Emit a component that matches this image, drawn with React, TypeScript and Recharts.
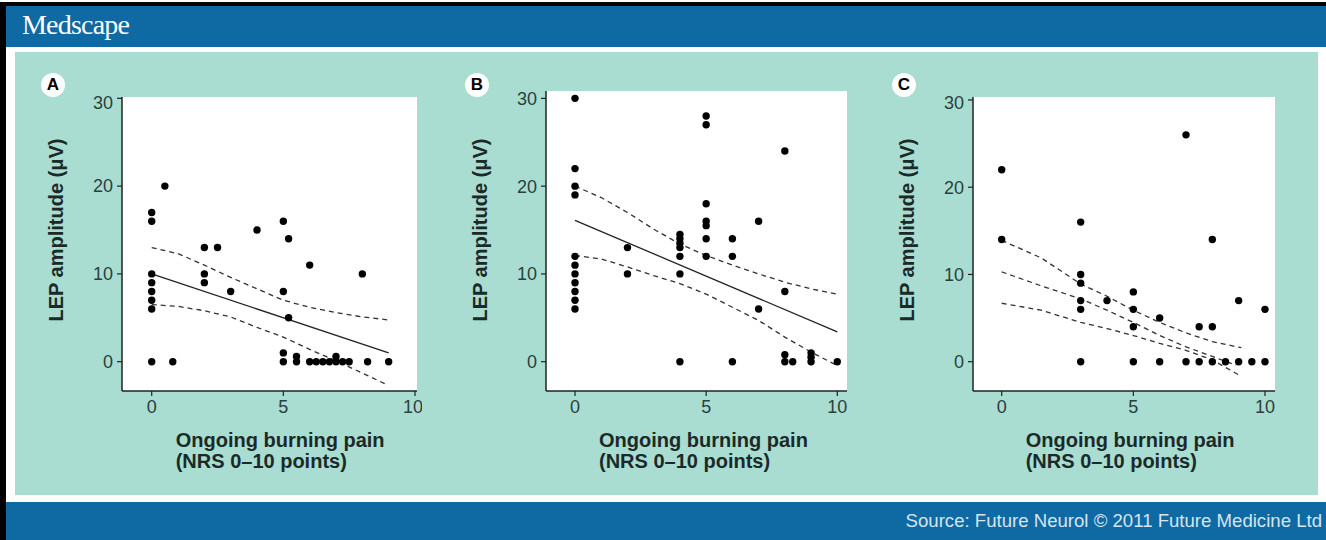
import React from "react";
import { ScatterChart, Scatter, XAxis, YAxis, CartesianGrid } from "recharts";

// Panel A
const aPain = [0, 0, 0, 0, 0, 0, 0, 0, 0.5, 0.8, 2, 2.5, 2, 2, 3, 4, 5, 5, 5.2, 5.2, 5, 5, 5.5, 5.5, 6, 6, 6.25, 6.5, 6.75, 7, 7, 7.25, 7.5, 8, 8.2, 9];
const aLep = [0, 6, 7, 8, 9, 10, 16, 17, 20, 0, 13, 13, 10, 9, 8, 15, 16, 8, 14, 5, 1, 0, 0.6, 0, 11, 0, 0, 0, 0, 0, 0.6, 0, 0, 10, 0, 0];
const aFitX = [0, 9];
const aFitY = [10, 1];
const aUpperX = [0, 1, 2, 3, 4, 5, 6, 7, 8, 9];
const aUpperY = [13, 12.3, 11.0, 9.6, 8.3, 7.0, 6.2, 5.6, 5.1, 4.75];
const aLowerX = [0, 1, 2, 3, 4, 5, 6, 7, 8, 8.85];
const aLowerY = [6.5, 6.3, 5.8, 5.1, 3.9, 2.8, 1.4, 0.1, -1.3, -2.5];

// Panel B
const bPain = [0, 0, 0, 0, 0, 0, 0, 0, 0, 0, 0, 2, 2, 4, 4, 4, 4, 4, 4, 4, 5, 5, 5, 5, 5, 5, 5, 6, 6, 6, 7, 7, 8, 8, 8, 8, 8.3, 9, 9, 9, 10];
const bLep = [30, 22, 20, 19, 12, 11, 10, 9, 8, 7, 6, 13, 10, 14.5, 14, 13.5, 13, 12, 10, 0, 28, 27, 18, 16, 15.5, 14, 12, 14, 12, 0, 16, 6, 24, 8, 0.8, 0, 0, 1, 0.5, 0, 0];
const bFitX = [0, 10];
const bFitY = [16.1, 3.4];
const bUpperX = [0, 1, 2, 3, 4, 5, 6, 7, 8, 9, 10];
const bUpperY = [20, 18.7, 17, 15.1, 13.4, 12.1, 11.0, 10.0, 9.05, 8.3, 7.7];
const bLowerX = [0, 1, 2, 3, 4, 5, 6, 7, 8, 9, 10];
const bLowerY = [12.1, 11.7, 10.8, 9.8, 8.9, 7.7, 6.2, 4.7, 2.8, 1.1, -0.45];

// Panel C
const cPain = [0, 0, 3, 3, 3, 3, 3, 3, 4, 5, 5, 5, 5, 6, 6, 7, 7, 7.5, 7.5, 8, 8, 8, 8.5, 9, 9, 9.5, 10, 10];
const cLep = [22, 14, 16, 10, 9, 7, 6, 0, 7, 8, 6, 4, 0, 5, 0, 26, 0, 4, 0, 14, 4, 0, 0, 7, 0, 0, 6, 0];
const cUpperX = [0, 1.5, 3, 4, 5, 6, 7, 8, 9.1];
const cUpperY = [13.9, 11.9, 8.9, 7.5, 5.9, 4.5, 3.3, 2.3, 1.6];
const cMidX = [0, 1.5, 3, 4, 5, 6, 7, 8, 8.9];
const cMidY = [10.3, 8.7, 7.2, 5.9, 4.5, 3.0, 1.7, 0.6, -0.4];
const cLowerX = [0, 1.5, 3, 4, 5, 6, 7, 8, 9];
const cLowerY = [6.7, 5.9, 4.5, 3.8, 3.0, 2.1, 1.3, 0.2, -1.5];

const xTicks = [0, 5, 10];
const yTicks = [0, 10, 20, 30];

const zip = (xs: number[], ys: number[]) => xs.map((x, i) => ({ x, y: ys[i] }));

const SANS = "'Liberation Sans', Arial, sans-serif";
const TEAL = "#a9ddd2";
const BLUE = "#0f69a3";
const Y_AXIS_W = 60;
const X_AXIS_H = 40;
const M = 5;

const Dot = (props: any) => <circle cx={props.cx} cy={props.cy} r={3.7} fill="#000" />;
const NoDot = () => <g />;

type LineDef = { pts: { x: number; y: number }[]; dashed: boolean };

function Panel({
  letter,
  plot,
  xDomain,
  yDomain,
  points,
  lines,
}: {
  letter: string;
  plot: { left: number; top: number; width: number; height: number };
  xDomain: [number, number];
  yDomain: [number, number];
  points: { x: number; y: number }[];
  lines: LineDef[];
}) {
  const x0 = plot.left + ((0 - xDomain[0]) / (xDomain[1] - xDomain[0])) * plot.width;
  const midY = 230;
  return (
    <>
      <div
        style={{
          position: "absolute",
          left: plot.left - Y_AXIS_W,
          top: plot.top - M,
        }}
      >
        <ScatterChart
          width={plot.width + Y_AXIS_W + M}
          height={plot.height + M + X_AXIS_H}
          margin={{ top: M, right: M, left: 0, bottom: 0 }}
        >
          <CartesianGrid fill="#fff" horizontal={false} vertical={false} stroke="none" />
          <XAxis
            type="number"
            dataKey="x"
            domain={xDomain}
            ticks={xTicks}
            allowDataOverflow
            height={X_AXIS_H}
            tickSize={5}
            tickMargin={4}
            axisLine={{ stroke: "#222", strokeWidth: 1.5 }}
            tickLine={{ stroke: "#222", strokeWidth: 1.2 }}
            tick={{ fill: "#2b3f3d", fontSize: 18, fontFamily: SANS }}
          />
          <YAxis
            type="number"
            dataKey="y"
            domain={yDomain}
            ticks={yTicks}
            allowDataOverflow
            width={Y_AXIS_W}
            tickSize={5}
            tickMargin={4}
            axisLine={{ stroke: "#222", strokeWidth: 1.5 }}
            tickLine={{ stroke: "#222", strokeWidth: 1.2 }}
            tick={{ fill: "#2b3f3d", fontSize: 18, fontFamily: SANS }}
          />
          {lines.map((l, i) => (
            <Scatter
              key={i}
              data={l.pts}
              shape={NoDot}
              line={
                l.dashed
                  ? { stroke: "#333", strokeWidth: 1.3, strokeDasharray: "5 4" }
                  : { stroke: "#222", strokeWidth: 1.3 }
              }
              isAnimationActive={false}
            />
          ))}
          <Scatter data={points} shape={Dot} isAnimationActive={false} />
        </ScatterChart>
      </div>
      {/* panel letter */}
      <div
        style={{
          position: "absolute",
          left: plot.left - 81,
          top: 73,
          width: 24,
          height: 24,
          borderRadius: 12,
          background: "#fff",
          textAlign: "center",
          lineHeight: "24px",
          fontFamily: SANS,
          fontWeight: "bold",
          fontSize: 17,
          color: "#000",
        }}
      >
        {letter}
      </div>
      {/* y label */}
      <div
        style={{
          position: "absolute",
          left: plot.left - 66 - 150,
          top: midY - 12,
          width: 300,
          height: 24,
          lineHeight: "24px",
          textAlign: "center",
          transform: "rotate(-90deg)",
          fontFamily: SANS,
          fontWeight: "bold",
          fontSize: 20,
          color: "#1b2a28",
          whiteSpace: "nowrap",
        }}
      >
        LEP amplitude (μV)
      </div>
      {/* x label */}
      <div
        style={{
          position: "absolute",
          left: x0 + 24,
          top: 430,
          fontFamily: SANS,
          fontWeight: "bold",
          fontSize: 20,
          lineHeight: "21px",
          color: "#1b2a28",
          whiteSpace: "nowrap",
        }}
      >
        Ongoing burning pain
        <br />
        (NRS 0–10 points)
      </div>
    </>
  );
}

export default function App() {
  return (
    <div
      style={{
        position: "absolute",
        left: 0,
        top: 0,
        width: 1326,
        height: 540,
        background: "#fff",
        overflow: "hidden",
      }}
    >
      <div style={{ position: "absolute", left: 0, top: 2, width: 6, height: 538, background: "#000" }} />
      <div style={{ position: "absolute", left: 0, top: 2, width: 1326, height: 4, background: "#000" }} />
      <div style={{ position: "absolute", left: 6, top: 6, width: 1320, height: 41, background: BLUE }} />
      <div
        style={{
          position: "absolute",
          left: 22,
          top: 9,
          fontFamily: "'Liberation Serif', 'Times New Roman', serif",
          fontSize: 28,
          color: "#fff",
          letterSpacing: -0.8,
        }}
      >
        Medscape
      </div>
      <div style={{ position: "absolute", left: 15, top: 52, width: 1303, height: 443, background: TEAL }} />
      <div style={{ position: "absolute", left: 6, top: 502, width: 1320, height: 38, background: BLUE }} />
      <div
        style={{
          position: "absolute",
          right: 4,
          top: 510,
          fontFamily: SANS,
          fontSize: 18.6,
          color: "#d5e6f1",
          whiteSpace: "nowrap",
        }}
      >
        Source: Future Neurol © 2011 Future Medicine Ltd
      </div>

      <Panel
        letter="A"
        plot={{ left: 122, top: 97, width: 295, height: 294 }}
        xDomain={[-1.128, 10.076]}
        yDomain={[-3.34, 30.15]}
        points={zip(aPain, aLep)}
        lines={[
          { pts: zip(aFitX, aFitY), dashed: false },
          { pts: zip(aUpperX, aUpperY), dashed: true },
          { pts: zip(aLowerX, aLowerY), dashed: true },
        ]}
      />
      <Panel
        letter="B"
        plot={{ left: 546, top: 91, width: 301, height: 300 }}
        xDomain={[-1.106, 10.37]}
        yDomain={[-3.34, 30.84]}
        points={zip(bPain, bLep)}
        lines={[
          { pts: zip(bFitX, bFitY), dashed: false },
          { pts: zip(bUpperX, bUpperY), dashed: true },
          { pts: zip(bLowerX, bLowerY), dashed: true },
        ]}
      />
      <Panel
        letter="C"
        plot={{ left: 973, top: 97, width: 302, height: 294 }}
        xDomain={[-1.09, 10.38]}
        yDomain={[-3.36, 30.34]}
        points={zip(cPain, cLep)}
        lines={[
          { pts: zip(cUpperX, cUpperY), dashed: true },
          { pts: zip(cMidX, cMidY), dashed: true },
          { pts: zip(cLowerX, cLowerY), dashed: true },
        ]}
      />
    </div>
  );
}
